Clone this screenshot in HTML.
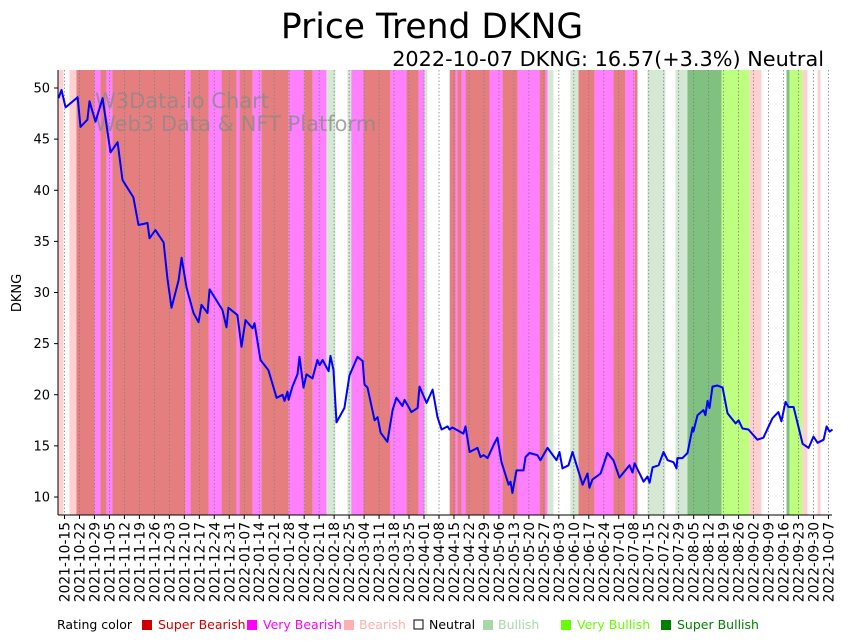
<!DOCTYPE html>
<html><head><meta charset="utf-8"><style>
body{margin:0;background:#fff;}
svg{display:block;font-family:"DejaVu Sans","Liberation Sans",sans-serif;}
</style></head><body>
<svg id="chart" width="848" height="641" viewBox="0 0 848 641" xmlns="http://www.w3.org/2000/svg">
<g id="bands"></g>
<g id="grid"></g>
<text x="95" y="108" font-size="21" fill="#888" fill-opacity="0.75">W3Data.io Chart</text>
<text x="95" y="131" font-size="21" fill="#888" fill-opacity="0.75">Web3 Data &amp; NFT Platform</text>
<path id="line" fill="none" stroke="#0000ff" stroke-width="2" stroke-linejoin="round"></path>
<line x1="58" y1="70" x2="58" y2="515" stroke="#000" stroke-width="1"/>
<line x1="58" y1="515" x2="832" y2="515" stroke="#000" stroke-width="1"/>
<g id="yticks"></g>
<g id="xticks"></g>
<text x="432" y="38" font-size="34.5" text-anchor="middle" fill="#000">Price Trend DKNG</text>
<text x="824" y="66" font-size="20.8" text-anchor="end" fill="#000">2022-10-07 DKNG: 16.57(+3.3%) Neutral</text>
<text x="21" y="293" font-size="13" text-anchor="middle" transform="rotate(-90 21 293)">DKNG</text>
<g font-size="12.5">
<text x="57" y="629" fill="#000">Rating color</text>
<rect x="142" y="620" width="10" height="10" fill="#cc0000"/>
<text x="158" y="629" fill="#cc0000">Super Bearish</text>
<rect x="247" y="620" width="10" height="10" fill="#ff00ff"/>
<text x="263" y="629" fill="#ff00ff">Very Bearish</text>
<rect x="344" y="620" width="10" height="10" fill="#ffb0b0"/>
<text x="359" y="629" fill="#ffb0b0">Bearish</text>
<rect x="414" y="620" width="9" height="9" fill="#fff" stroke="#000"/>
<text x="429" y="629" fill="#000">Neutral</text>
<rect x="483" y="620" width="10" height="10" fill="#a8d8a8"/>
<text x="498" y="629" fill="#a8d8a8">Bullish</text>
<rect x="561" y="620" width="10" height="10" fill="#66ff00"/>
<text x="577" y="629" fill="#66ff00">Very Bullish</text>
<rect x="661" y="620" width="10" height="10" fill="#008000"/>
<text x="677" y="629" fill="#008000">Super Bullish</text>
</g>
</svg>
<script>
// days since 2021-10-15
const priceDays=[-2.8,-1.4,0.5,6.1,7.5,10.7,11.7,14.5,17.8,21.5,24.8,27.1,32.2,34.6,38.8,39.7,42.5,46.3,48.1,50,53.3,54.7,57,60.3,62.6,64,66.8,67.8,73.8,75.7,76.6,80.8,82.7,84.6,87.9,88.8,91.6,95.3,99.1,101.9,102.8,104.2,104.7,106.5,108.9,109.8,111.7,113.1,115.9,118.2,119.2,120.6,123.4,124.3,125.7,127.1,130.8,133.2,136.9,139.3,140.2,141.6,144.9,146.3,147.7,150.9,153.3,155.1,157.9,158.9,160.3,162.1,165,165.9,169.2,172,174.3,176.2,179,179.9,181.3,186.4,187.4,189.3,193,194.4,195.8,197.7,200.5,202.3,204.2,207.5,208.4,209.3,211.2,214.5,215.4,217.3,221,222.4,225.7,229.9,231.3,232.7,235.5,237.4,242.1,244.4,245.3,246.7,250.5,253.7,256.5,259.3,264,265.4,266.4,270.6,272.4,273.4,274.8,277.6,279.9,281.8,284.6,286,286.4,288.8,291.1,293.5,293.9,295.8,298.6,299.5,300.5,301.4,302.8,305.1,307.5,309.8,313.6,315,316.8,319.6,323.8,326.6,330.8,333.6,335,336.9,338.3,340.7,344.9,347.7,350,351.9,354.7,356.1,357.5,358.9];
const priceValues=[49.0,49.8,48.1,49.1,46.2,46.9,48.7,46.7,49.0,43.7,44.7,41.0,39.3,36.6,36.8,35.3,36.1,34.9,31.4,28.5,31.2,33.4,30.5,28.0,27.1,28.8,28.0,30.3,28.3,26.6,28.5,27.8,24.7,27.3,26.5,27.0,23.4,22.4,19.7,20.0,19.4,20.3,19.5,20.8,22.0,23.7,20.7,22.0,21.6,23.4,22.9,23.4,22.3,23.8,22.4,17.3,18.7,21.9,23.7,23.3,21.0,20.7,17.5,17.8,16.3,15.4,18.5,19.7,18.9,19.5,19.0,18.3,18.7,20.8,19.2,20.5,17.8,16.6,16.9,16.6,16.8,16.2,16.9,14.4,14.8,13.9,14.1,13.8,15.1,15.8,13.4,11.2,11.5,10.4,12.6,12.6,13.9,14.3,14.1,13.6,14.8,13.6,14.4,12.8,13.1,14.4,11.2,12.3,10.9,11.7,12.3,14.3,13.6,11.9,13.1,12.4,13.3,11.5,12.0,11.4,12.9,13.1,14.4,13.6,13.4,12.8,13.8,13.8,14.3,16.8,16.4,18.0,18.5,18.0,19.4,18.7,20.8,20.9,20.7,18.2,17.2,17.5,16.7,16.6,15.6,15.8,17.7,18.3,17.4,19.3,18.8,18.8,15.2,14.8,15.9,15.3,15.6,16.9,16.4,16.6];
// band start days and ratings (0 super bearish ... 6 super bullish, 3 neutral)
const bandStarts=[-3,-0.5,2.3,5.6,14,16.8,19.6,22.4,56.5,58.9,67.3,73.4,80.4,81.8,87.9,92,104.7,112,116,122.4,126.6,132.2,134,139.7,152.3,159.8,165.4,168.2,169.6,180,182.7,183.6,185.5,187.4,198.6,204.7,211.7,222,224.8,225.7,228.5,236.4,240.2,247.7,256.5,262.1,266.4,267.8,272.4,280.8,285.5,291.1,307,320,325.7,337.4,338.8,344.9,347.2,351.9,353.3];
const bandRatings=[2,3,2,0,1,0,1,0,1,0,1,0,1,0,1,0,1,0,1,4,3,4,1,0,1,0,1,4,3,0,1,0,1,0,1,0,1,0,1,4,3,4,0,1,0,1,0,3,4,3,4,6,5,2,3,6,5,2,3,2,3];
const bandEnd=359.5;
const yTicks=[10,15,20,25,30,35,40,45,50];
const tickCount=52;

const NS="http://www.w3.org/2000/svg";
const X0=58,X1=832,Y0=70,Y1=515;
const xs=d=>64.5+d*2.14;
const ys=v=>497-(v-10)*10.225;
const colors=["#e57f7f","#ff80ff","#ffd0d0","#ffffff","#d4e8d4","#bfff80","#80c080"];
function mk(tag,attrs,parent){const e=document.createElementNS(NS,tag);for(const k in attrs)e.setAttribute(k,attrs[k]);parent.appendChild(e);return e;}
const bands=document.getElementById('bands');
for(let i=0;i<bandStarts.length;i++){
  const a=Math.max(X0,xs(bandStarts[i]));
  const b=Math.min(X1,xs(i+1<bandStarts.length?bandStarts[i+1]:bandEnd));
  if(b<=a)continue;
  const r=mk('rect',{x:a,y:Y0,width:b-a,height:Y1-Y0,fill:colors[bandRatings[i]]},bands);
  
  
}
const grid=document.getElementById('grid');
const xt=document.getElementById('xticks');
const base=new Date(Date.UTC(2021,9,15));
for(let k=0;k<tickCount;k++){
  const x=xs(k*7);
  const g=mk('line',{x1:x,y1:Y0,x2:x,y2:Y1,stroke:'#808080','stroke-width':0.8,'stroke-dasharray':'1.5,2'},grid);
  
  
  const t=mk('line',{x1:x,y1:Y1,x2:x,y2:Y1+4,stroke:'#000'},xt);
  
  
  const d=new Date(base.getTime()+k*7*86400000);
  const lab=d.toISOString().slice(0,10);
  const tx=mk('text',{x:x+5,y:Y1+7,'font-size':13.8,'text-anchor':'end',transform:`rotate(-90 ${x+5} ${Y1+7})`},xt);
  tx.textContent=lab;
  
  
}
const yt=document.getElementById('yticks');
yTicks.forEach(v=>{
  const y=ys(v);
  const l=mk('line',{x1:X0-4,y1:y,x2:X0,y2:y,stroke:'#000'},yt);
  
  
  const t=mk('text',{x:X0-8,y:y+4.5,'font-size':13,'text-anchor':'end'},yt);
  t.textContent=v;
  
  
});
let d='';
priceDays.forEach((dd,i)=>{const x=Math.max(X0,xs(dd));d+=(i?'L':'M')+x.toFixed(1)+','+ys(priceValues[i]).toFixed(1);});
document.getElementById('line').setAttribute('d',d);
</script>
</body></html>
